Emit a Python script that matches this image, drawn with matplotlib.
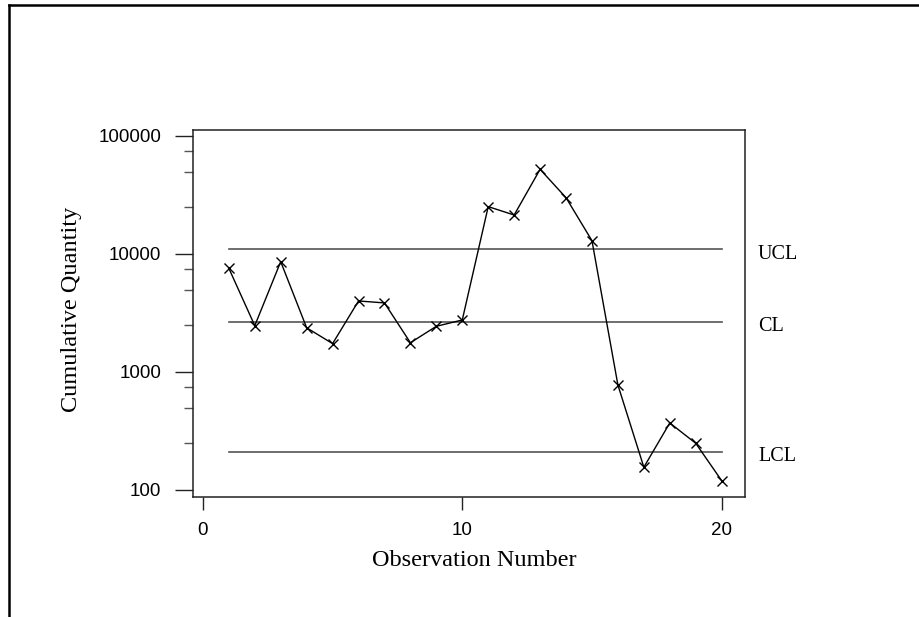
import matplotlib
matplotlib.use("Agg")
import matplotlib.pyplot as plt
from matplotlib.lines import Line2D
from matplotlib.ticker import FixedLocator, FixedFormatter, NullFormatter
from matplotlib.transforms import offset_copy

# Data
obs = list(range(1, 21))
quantity = [7570, 2470, 8610, 2370, 1740, 4000, 3850, 1770, 2440, 2760,
            25200, 21400, 52200, 30000, 12970, 776, 156, 370, 249, 120]
ucl = 10920
cl = 2668
lcl = 210
control_labels = ["UCL", "CL", "LCL"]
xticks = [0, 10, 20]
yticks = [100, 1000, 10000, 100000]
yticklabels = ["100", "1000", "10000", "100000"]
yminor = [250, 500, 750, 2500, 5000, 7500, 25000, 50000, 75000]

W, H = 920, 617
fig = plt.figure(figsize=(W / 100, H / 100), dpi=100)
ax = fig.add_axes([193.3 / W, 1 - 496.7 / H, (745 - 193.3) / W, (496.7 - 130) / H])

sans = "Liberation Sans"
serif = "Liberation Serif"

# control lines
for val in (ucl, cl, lcl):
    ax.plot([obs[0], obs[-1]], [val, val], color="#555555", lw=1.2, zorder=2)

ax.plot(obs, quantity, color="black", lw=1.0, marker="x", markersize=6.5,
        markeredgewidth=1.0, zorder=3)

ax.set_yscale("log")
ax.set_xlim(-0.37, 20.9)
ax.set_ylim(10 ** (2 - 6.7 / 118), 10 ** (5 + 6 / 118))

ax.yaxis.set_major_locator(FixedLocator(yticks))
ax.yaxis.set_major_formatter(FixedFormatter(yticklabels))
ax.yaxis.set_minor_locator(FixedLocator(yminor))
ax.yaxis.set_minor_formatter(NullFormatter())
ax.set_xticks(xticks)
ax.set_xticklabels([str(t) for t in xticks])

ax.tick_params(axis="y", which="major", direction="out", length=13, width=1.0,
               color="#222222", pad=10)
ax.tick_params(axis="y", which="minor", direction="out", length=6.5, width=1.0,
               color="#555555")
ax.tick_params(axis="x", which="major", direction="out", length=9.5, width=1.0,
               color="#222222", pad=9)
for lab in ax.get_yticklabels() + ax.get_xticklabels():
    lab.set_fontfamily(sans)
    lab.set_fontsize(13.5)

for sp in ax.spines.values():
    sp.set_linewidth(1.1)
    sp.set_color("#222222")

# control labels (slightly below their lines, as in the reference)
lab_tr = offset_copy(ax.get_yaxis_transform(), fig=fig, x=0, y=-3.5, units="points")
for txt, val in zip(control_labels, (ucl, cl, lcl)):
    ax.text(1.0236, val, txt, transform=lab_tr, ha="left",
            va="center", fontfamily=serif, fontsize=14.5, color="black")

fig.text(72 / W, 1 - 309 / H, "Cumulative Quantity", rotation=90, ha="center",
         va="center", fontfamily=serif, fontsize=17.5)
fig.text(474 / W, 1 - 560 / H, "Observation Number", ha="center", va="center",
         fontfamily=serif, fontsize=17.5)

# outer frame (top and left)
fig.add_artist(Line2D([9 / W, 1.0], [1 - 5 / H, 1 - 5 / H], color="black", lw=1.8,
                      transform=fig.transFigure))
fig.add_artist(Line2D([9 / W, 9 / W], [1 - 5 / H, 0.0], color="black", lw=1.8,
                      transform=fig.transFigure))

fig.savefig("out.png", dpi=100)
